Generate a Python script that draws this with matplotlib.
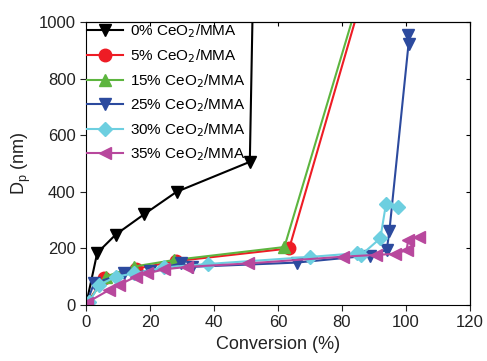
import numpy as np
import matplotlib
matplotlib.use("Agg")
import matplotlib.pyplot as plt

plt.rcParams['font.family'] = ['Liberation Sans', 'DejaVu Sans']

# 0% CeO2/MMA
x0 = [0, 3.5, 9.3, 18.2, 28.3, 51.2, 52.5]
y0 = [0, 184, 249, 321, 400, 506, 1300]
# 5% CeO2/MMA
x5 = [0, 5.5, 15.5, 28, 63.5, 88]
y5 = [0, 95, 128, 155, 200, 1156]
# 15% CeO2/MMA
x15 = [0, 6.1, 15, 27.5, 62, 88]
y15 = [0, 100, 136, 159, 205, 1189]
# 25% CeO2/MMA
x25 = [0, 2.5, 11.9, 20, 29.6, 33, 65.8, 88.8, 94, 94.8, 100.8, 100.5]
y25 = [0, 77, 112, 121, 147, 135, 150, 175, 195, 260, 922, 954]
# 30% CeO2/MMA
x30 = [1, 4, 9.3, 15, 24.4, 38, 70, 84.6, 86, 92, 93.75, 97.6]
y30 = [10, 70, 100, 112, 133, 145, 170, 183, 177, 236, 357, 347]
# 35% CeO2/MMA
x35 = [0.2, 7.2, 10.3, 15.5, 19.2, 24.4, 31.7, 50.7, 80.4, 90.5, 96.6, 100.2, 100.7, 104.2]
y35 = [8, 53, 71, 100, 112, 126, 135, 147, 171, 177, 181, 194, 230, 241]

series = [
    (x0, y0, "k", "v", "0% CeO$_2$/MMA"),
    (x5, y5, "#ee1c25", "o", "5% CeO$_2$/MMA"),
    (x15, y15, "#5db53f", "^", "15% CeO$_2$/MMA"),
    (x25, y25, "#2c4a9e", "v", "25% CeO$_2$/MMA"),
    (x30, y30, "#6dcfe0", "D", "30% CeO$_2$/MMA"),
    (x35, y35, "#b8489d", "<", "35% CeO$_2$/MMA"),
]

fig = plt.figure(figsize=(4.87, 3.61), dpi=100)
ax = fig.add_axes([0.1766, 0.155, 0.7884, 0.784])
for x, y, c, m, lab in series:
    ms = 7.5 if m == "D" else 9
    ax.plot(x, y, color=c, marker=m, ms=ms, lw=1.5, mec=c, label=lab)

ax.set_xlim(0, 120)
ax.set_ylim(0, 1000)
ax.set_xticks(np.arange(0, 121, 20))
ax.set_yticks(np.arange(0, 1001, 200))
ax.tick_params(labelsize=12, direction="out", length=4, colors="#222222")
ax.set_xlabel("Conversion (%)", fontsize=13, color="#222222")
ax.set_ylabel("D$_\\mathregular{p}$ (nm)", fontsize=13, color="#222222")

top = ax.secondary_xaxis("top")
top.set_xticks(np.arange(0, 121, 20))
top.tick_params(direction="in", length=3, labeltop=False)
right = ax.secondary_yaxis("right")
right.set_yticks(np.arange(0, 1001, 200))
right.tick_params(direction="in", length=3, labelright=False)

ax.legend(loc="upper left", frameon=False, fontsize=11, handlelength=2.4,
          borderaxespad=0.05, borderpad=0, labelspacing=0.45,
          handletextpad=0.4)
fig.savefig("out.png", dpi=100)
